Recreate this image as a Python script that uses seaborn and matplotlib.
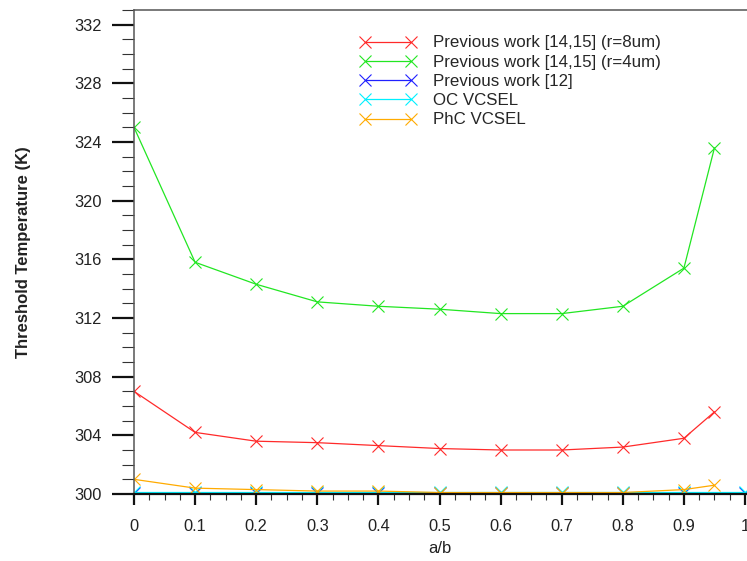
import matplotlib
matplotlib.use("Agg")
import matplotlib.pyplot as plt
import seaborn as sns
import pandas as pd
from matplotlib.ticker import MultipleLocator, FuncFormatter

# ---- data ----
x_main = [0.0, 0.1, 0.2, 0.3, 0.4, 0.5, 0.6, 0.7, 0.8, 0.9, 0.95]
red_r8 = [307.0, 304.2, 303.6, 303.5, 303.3, 303.1, 303.0, 303.0, 303.2, 303.8, 305.6]
green_r4 = [325.0, 315.8, 314.3, 313.1, 312.8, 312.6, 312.3, 312.3, 312.8, 315.4, 323.6]
orange_phc = [301.0, 300.4, 300.3, 300.2, 300.2, 300.1, 300.1, 300.1, 300.1, 300.3, 300.6]

x_full = [0.0, 0.1, 0.2, 0.3, 0.4, 0.5, 0.6, 0.7, 0.8, 0.9, 1.0]
blue_12 = [300.05, 300.05, 300.05, 300.05, 300.05, 300.05, 300.05, 300.05, 300.05, 300.05, 300.05]
cyan_oc = [300.12, 300.12, 300.12, 300.12, 300.12, 300.12, 300.12, 300.12, 300.12, 300.12, 300.12]

labels = ["Previous work [14,15] (r=8um)",
          "Previous work [14,15] (r=4um)",
          "Previous work [12]",
          "OC VCSEL",
          "PhC VCSEL"]
colors = ["#ff2a2a", "#22e622", "#2020ff", "#00f0ff", "#ffab00"]

series = [(x_main, red_r8), (x_main, green_r4), (x_full, blue_12),
          (x_full, cyan_oc), (x_main, orange_phc)]

sns.set_theme(style="ticks")
plt.rcParams["font.family"] = ["Liberation Sans", "DejaVu Sans"]

W, H = 747, 561
fig = plt.figure(figsize=(W / 100, H / 100), dpi=100)
left_px, right_px_at1, bottom_px, top_px = 134, 745, 494, 10
xmax = 1.02
ax_w = (right_px_at1 - left_px) * xmax
ax = fig.add_axes([left_px / W, 1 - bottom_px / H, ax_w / W, (bottom_px - top_px) / H])

for (xs, ys), lab, col in zip(series, labels, colors):
    df = pd.DataFrame({"a/b": xs, "T": ys})
    sns.lineplot(data=df, x="a/b", y="T", ax=ax, color=col, label=lab,
                 marker="x", markersize=9, markeredgewidth=0.8,
                 linewidth=0.9, markeredgecolor=col)

ax.set_xlim(0, xmax)
ax.set_ylim(300, 333)

ax.xaxis.set_major_locator(MultipleLocator(0.1))
ax.xaxis.set_minor_locator(MultipleLocator(0.025))
ax.yaxis.set_major_locator(MultipleLocator(4))
ax.yaxis.set_minor_locator(MultipleLocator(1))
ax.xaxis.set_major_formatter(FuncFormatter(lambda v, p: "%g" % round(v, 3)))
ax.yaxis.set_major_formatter(FuncFormatter(lambda v, p: "%d" % round(v)))

ax.tick_params(axis="y", which="major", direction="out", length=16, width=1.6,
               color="#111111", labelsize=11.8, pad=7, labelcolor="#222222", left=True)
ax.tick_params(axis="y", which="minor", direction="out", length=8.6, width=0.8,
               color="#333333", left=True)
ax.tick_params(axis="x", which="major", direction="out", length=8, width=1.6,
               color="#111111", labelsize=11.8, pad=10, labelcolor="#222222", bottom=True)
ax.tick_params(axis="x", which="minor", direction="out", length=4.5, width=0.8,
               color="#333333", bottom=True)

for s in ["left", "top"]:
    ax.spines[s].set_color("#555555")
    ax.spines[s].set_linewidth(1.1)
ax.spines["bottom"].set_color("#111111")
ax.spines["bottom"].set_linewidth(1.6)
ax.spines["right"].set_visible(False)

ax.set_xlabel("a/b", fontsize=12, color="#222222")
ax.xaxis.set_label_coords(0.5 / xmax, -(541 - bottom_px) / (bottom_px - top_px))
ax.set_ylabel("Threshold Temperature (K)", fontsize=12, fontweight="bold", color="#222222")
ax.yaxis.set_label_coords((31 - left_px) / ax_w, 0.5)

ax.legend(loc="upper left", bbox_to_anchor=(360 / W, 1 - 35.5 / H),
          bbox_transform=fig.transFigure, frameon=False, fontsize=12.2,
          numpoints=2, handlelength=3.3, handletextpad=1.0, labelspacing=0.25,
          borderpad=0, borderaxespad=0)

fig.savefig("out.png", dpi=100, facecolor="white")
